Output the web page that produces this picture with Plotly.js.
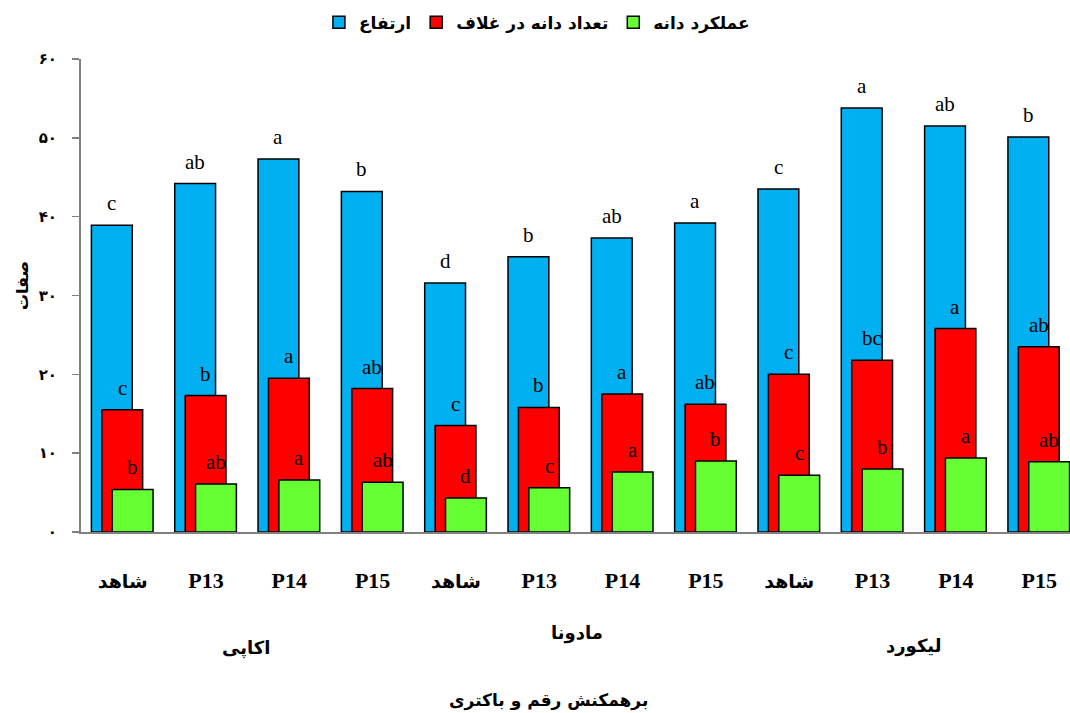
<!DOCTYPE html>
<html>
<head>
<meta charset="utf-8">
<script src="https://cdn.plot.ly/plotly-3.0.1.min.js"></script>
<style>html,body{margin:0;padding:0;background:#fff;}#chart{width:1070px;height:713px;}</style>
</head>
<body>
<div id="chart"></div>
<script>
// ---- data ----
const categories = ['شاهد','P13','P14','P15','شاهد','P13','P14','P15','شاهد','P13','P14','P15'];
const groups = ['اکاپی','مادونا','لیکورد'];
const seriesNames = ['ارتفاع','تعداد دانه در غلاف','عملکرد دانه'];
const heightVals = [38.9,44.2,47.3,43.2,31.6,34.9,37.3,39.2,43.5,53.8,51.5,50.1];
const seedsVals  = [15.5,17.3,19.5,18.2,13.5,15.8,17.5,16.2,20.0,21.8,25.8,23.5];
const yieldVals  = [5.4,6.1,6.6,6.3,4.3,5.6,7.6,9.0,7.2,8.0,9.4,8.9];
const heightLetters = ['c','ab','a','b','d','b','ab','a','c','a','ab','b'];
const seedsLetters  = ['c','b','a','ab','c','b','a','ab','c','bc','a','ab'];
const yieldLetters  = ['b','ab','a','ab','d','c','a','b','c','b','a','ab'];
const yTickVals = [0,10,20,30,40,50,60];
const yTickText = ['۰','۱۰','۲۰','۳۰','۴۰','۵۰','۶۰'];
const xTitle = 'برهمکنش رقم و باکتری';
const yTitle = 'صفات';

// ---- styling ----
const colors = ['#00B0F0','#FF0000','#66FF33'];
const barWidth = 0.49;
const offsets = [-0.375,-0.25,-0.125];
const serif = 'Liberation Serif, DejaVu Sans, serif';
const faFont = 'DejaVu Sans, Liberation Serif, sans-serif';

const idx = categories.map((_, i) => i);
const vals = [heightVals, seedsVals, yieldVals];
const letters = [heightLetters, seedsLetters, yieldLetters];

const traces = vals.map((v, s) => ({
  type: 'bar',
  name: '<b>' + seriesNames[s] + '</b>',
  x: idx,
  y: v,
  width: barWidth,
  offset: offsets[s],
  marker: {color: colors[s], line: {color: '#000', width: 1.5}},
  hoverinfo: 'y'
}));

const annotations = [];
vals.forEach((v, s) => {
  v.forEach((val, i) => {
    annotations.push({
      x: i + offsets[s] + barWidth / 2, y: val, xref: 'x', yref: 'y',
      text: letters[s][i], showarrow: false, yanchor: 'middle', yshift: 22,
      font: {family: serif, size: 21, color: '#000'}
    });
  });
});
// group labels
const groupPos = [[246, 648], [577, 633], [913, 646]];
groups.forEach((g, k) => {
  annotations.push({
    x: (groupPos[k][0] - 81) / 989, y: (532 - groupPos[k][1]) / 473, xref: 'paper', yref: 'paper',
    text: '<b>' + g + '</b>', showarrow: false, xanchor: 'center', yanchor: 'middle',
    font: {family: faFont, size: 18, color: '#000'}
  });
});
annotations.push({
  x: (548 - 81) / 989, y: (532 - 700) / 473, xref: 'paper', yref: 'paper', text: '<b>' + xTitle + '</b>',
  showarrow: false, xanchor: 'center', yanchor: 'middle', font: {family: faFont, size: 17, color: '#000'}
});
annotations.push({
  x: -59 / 989, y: 0.52, xref: 'paper', yref: 'paper', text: '<b>' + yTitle + '</b>',
  showarrow: false, textangle: -90, xanchor: 'center', yanchor: 'middle',
  font: {family: faFont, size: 16, color: '#000'}
});

const tickLabel = c => /^[A-Za-z0-9]+$/.test(c) ? '<b>' + c + '</b>'
  : '<span style="font-size:19px;font-family:DejaVu Sans"><b>' + c + '</b></span>';

const layout = {
  width: 1070, height: 713,
  margin: {l: 81, r: 0, t: 59, b: 181},
  paper_bgcolor: '#fff', plot_bgcolor: '#fff',
  barmode: 'overlay',
  showlegend: true,
  legend: {orientation: 'h', x: 0.461, xanchor: 'center', y: 1.115, yanchor: 'top',
           font: {family: faFont, size: 17, color: '#000'}, itemclick: false},
  xaxis: {
    type: 'linear', range: [-0.5, 11.37], tickvals: idx, ticktext: categories.map(tickLabel),
    showgrid: false, zeroline: false, showline: true, linecolor: '#808080', linewidth: 2,
    ticks: '', ticklabelstandoff: 28,
    tickfont: {family: serif, size: 22, color: '#000'}
  },
  yaxis: {
    range: [0, 60], tickvals: yTickVals, ticktext: yTickText.map(t => '<b>' + t + '</b>'),
    showgrid: false, zeroline: false, showline: true, linecolor: '#808080', linewidth: 2,
    ticks: 'outside', ticklen: 7, tickcolor: '#808080', tickwidth: 1.5, ticklabelstandoff: 12,
    tickfont: {family: faFont, size: 15, color: '#000'}
  },
  annotations: annotations
};

Plotly.newPlot('chart', traces, layout, {displayModeBar: false, staticPlot: true});
</script>
</body>
</html>
